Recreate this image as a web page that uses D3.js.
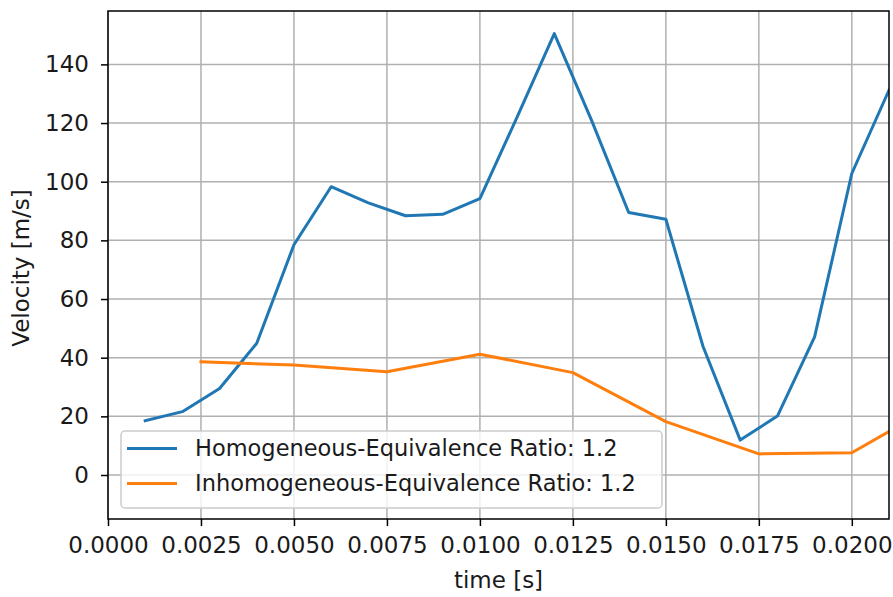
<!DOCTYPE html>
<html>
<head>
<meta charset="utf-8">
<script src="https://cdn.jsdelivr.net/npm/d3@7"></script>
<style>
  html, body { margin: 0; padding: 0; background: #fff; }
  svg text { font-family: "DejaVu Sans", sans-serif; fill: #1a1a1a; }
</style>
</head>
<body>
<svg id="chart" width="893" height="597"></svg>
<script>
// Flame-front velocity over time for two mixtures
const homoTime = [0.001, 0.002, 0.003, 0.004, 0.005, 0.006, 0.007, 0.008, 0.009, 0.010,
                  0.011, 0.012, 0.013, 0.014, 0.015, 0.016, 0.017, 0.018, 0.019, 0.020, 0.021];
const homoVelocity = [18.5, 21.6, 29.5, 44.9, 78.5, 98.3, 92.8, 88.4, 88.9, 94.2,
                      122.0, 150.5, 121.0, 89.5, 87.2, 43.8, 11.9, 20.1, 47.1, 102.8, 131.2];
const inhomoTime = [0.0025, 0.005, 0.0075, 0.010, 0.0125, 0.015, 0.0175, 0.020, 0.0225];
const inhomoVelocity = [38.6, 37.5, 35.2, 41.2, 34.9, 18.2, 7.2, 7.6, 25.6];

const seriesNames = ["Homogeneous-Equivalence Ratio: 1.2", "Inhomogeneous-Equivalence Ratio: 1.2"];
const seriesColors = ["#1f77b4", "#ff7f0e"];
const xTicks = [0, 0.0025, 0.005, 0.0075, 0.01, 0.0125, 0.015, 0.0175, 0.02];
const yTicks = [0, 20, 40, 60, 80, 100, 120, 140];
const xLabel = "time [s]";
const yLabel = "Velocity [m/s]";

const FONT = 23;
const LEGEND_FONT = 22.5;
const margin = { left: 108, top: 11, right: 889, bottom: 519 };
const svg = d3.select("#chart");

const x = d3.scaleLinear().domain([0, 0.021]).range([margin.left, margin.right]);
const y = d3.scaleLinear().domain([-15, 158.2]).range([margin.bottom, margin.top]);

svg.append("defs").append("clipPath").attr("id", "plot-clip")
  .append("rect")
  .attr("x", margin.left).attr("y", margin.top)
  .attr("width", margin.right - margin.left).attr("height", margin.bottom - margin.top);

// grid
const grid = svg.append("g");
grid.selectAll(".gx").data(xTicks).join("line")
  .attr("x1", d => x(d)).attr("x2", d => x(d))
  .attr("y1", margin.top).attr("y2", margin.bottom)
  .attr("stroke", "#b0b0b0").attr("stroke-width", 1.5);
grid.selectAll(".gy").data(yTicks).join("line")
  .attr("y1", d => y(d)).attr("y2", d => y(d))
  .attr("x1", margin.left).attr("x2", margin.right)
  .attr("stroke", "#b0b0b0").attr("stroke-width", 1.5);

// series
const line = d3.line().x(d => x(d[0])).y(d => y(d[1]));
const series = [
  d3.zip(homoTime, homoVelocity),
  d3.zip(inhomoTime, inhomoVelocity)
];
const plot = svg.append("g").attr("clip-path", "url(#plot-clip)");
series.forEach((pts, i) => {
  plot.append("path").datum(pts)
    .attr("d", line)
    .attr("fill", "none")
    .attr("stroke", seriesColors[i])
    .attr("stroke-width", 3)
    .attr("stroke-linejoin", "round")
    .attr("stroke-linecap", "square");
});

// axes
const xAxis = d3.axisBottom(x).tickValues(xTicks).tickFormat(d3.format(".4f")).tickSizeOuter(0).tickSize(7).tickPadding(11);
const yAxis = d3.axisLeft(y).tickValues(yTicks).tickFormat(d3.format("d")).tickSizeOuter(0).tickSize(7).tickPadding(12);

const gx = svg.append("g").attr("transform", `translate(0,${margin.bottom})`).call(xAxis);
const gy = svg.append("g").attr("transform", `translate(${margin.left},0)`).call(yAxis);
[gx, gy].forEach(g => {
  g.select(".domain").remove();
  g.selectAll(".tick line").attr("stroke", "#000").attr("stroke-width", 1.5);
  g.selectAll(".tick text").attr("font-size", FONT).attr("fill", "#1a1a1a");
});

// frame
svg.append("rect")
  .attr("x", margin.left).attr("y", margin.top)
  .attr("width", margin.right - margin.left).attr("height", margin.bottom - margin.top)
  .attr("fill", "none").attr("stroke", "#000").attr("stroke-width", 1.5);

// axis labels
svg.append("text")
  .attr("x", (margin.left + margin.right) / 2).attr("y", 588)
  .attr("text-anchor", "middle").attr("font-size", FONT)
  .text(xLabel);
svg.append("text")
  .attr("transform", `translate(29,268) rotate(-90)`)
  .attr("text-anchor", "middle").attr("font-size", FONT)
  .text(yLabel);

// legend
const legend = svg.append("g");
legend.append("rect")
  .attr("x", 121).attr("y", 431).attr("width", 541).attr("height", 77)
  .attr("rx", 4).attr("ry", 4)
  .attr("fill", "#fff").attr("fill-opacity", 0.8)
  .attr("stroke", "#cccccc").attr("stroke-width", 1.5);
seriesNames.forEach((name, i) => {
  const cy = 448.5 + i * 35;
  legend.append("line")
    .attr("x1", 127).attr("x2", 177).attr("y1", cy).attr("y2", cy)
    .attr("stroke", seriesColors[i]).attr("stroke-width", 3);
  legend.append("text")
    .attr("x", 195).attr("y", cy).attr("dy", "0.35em")
    .attr("font-size", LEGEND_FONT)
    .text(name);
});
</script>
</body>
</html>
